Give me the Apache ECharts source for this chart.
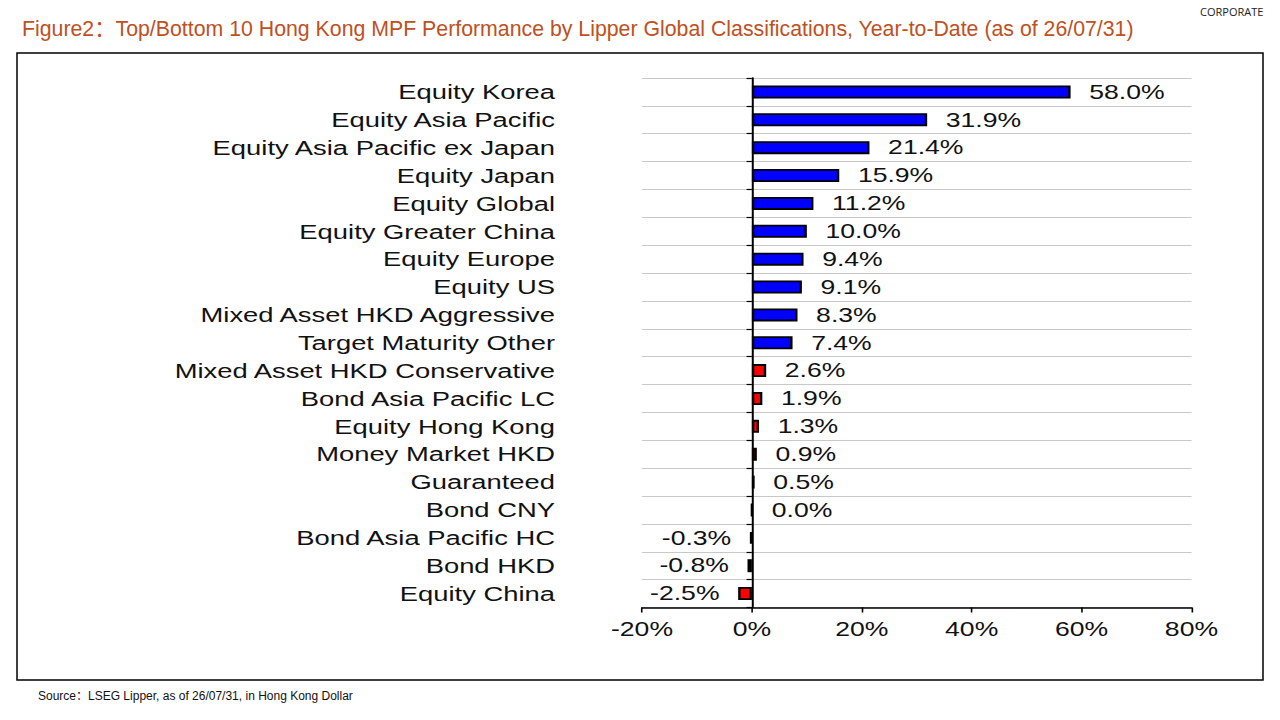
<!DOCTYPE html>
<html>
<head>
<meta charset="utf-8">
<script src="https://cdn.jsdelivr.net/npm/echarts@6/dist/echarts.min.js"></script>
<style>
  html, body { margin: 0; padding: 0; background: #fff; }
  #frame { position: absolute; left: 0; top: 0; width: 1280px; height: 720px; }
  #chart { position: absolute; left: 0; top: 0; height: 720px; transform-origin: 0 0; }
</style>
</head>
<body>
<div id="frame"></div>
<div id="chart"></div>
<script>
const categories = [
  'Equity Korea', 'Equity Asia Pacific', 'Equity Asia Pacific ex Japan', 'Equity Japan',
  'Equity Global', 'Equity Greater China', 'Equity Europe', 'Equity US',
  'Mixed Asset HKD Aggressive', 'Target Maturity Other', 'Mixed Asset HKD Conservative',
  'Bond Asia Pacific LC', 'Equity Hong Kong', 'Money Market HKD', 'Guaranteed',
  'Bond CNY', 'Bond Asia Pacific HC', 'Bond HKD', 'Equity China'
];
const ytdReturns = [58.0, 31.9, 21.4, 15.9, 11.2, 10.0, 9.4, 9.1, 8.3, 7.4,
                    2.6, 1.9, 1.3, 0.9, 0.5, 0.0, -0.3, -0.8, -2.5];
const topCount = 10;
const xTicks = [-20, 0, 20, 40, 60, 80];

const titleText = 'Figure2：Top/Bottom 10 Hong Kong MPF Performance by Lipper Global Classifications, Year-to-Date (as of 26/07/31)';
const sourceText = 'Source：LSEG Lipper, as of 26/07/31, in Hong Kong Dollar';
const tagText = 'CORPORATE';

const FONT = '"Liberation Sans", Arial, "Noto Sans CJK SC", sans-serif';

// Background frame, title and footnotes
const frame = echarts.init(document.getElementById('frame'), null, {renderer: 'svg'});
frame.setOption({
  animation: false,
  graphic: [
    { type: 'rect', shape: { x: 17, y: 53, width: 1246, height: 627 },
      style: { fill: 'none', stroke: '#000', lineWidth: 1.5 } },
    { type: 'text', left: 22, top: 18,
      style: { text: titleText, fill: '#C0501E', font: '21.3px ' + FONT } },
    { type: 'text', left: 1200, top: 6,
      style: { text: tagText, fill: '#222', font: '11px "Open Sans", "Liberation Sans", sans-serif' } },
    { type: 'text', left: 38, top: 690,
      style: { text: sourceText, fill: '#111', font: '12px ' + FONT } }
  ]
});

// Chart (horizontally stretched like the reference)
const S = 1.33;
const W = 1280 / S;
const chartDiv = document.getElementById('chart');
chartDiv.style.width = W + 'px';
chartDiv.style.transform = 'scaleX(' + S + ')';

const chart = echarts.init(chartDiv, null, {renderer: 'svg'});
chart.setOption({
  animation: false,
  backgroundColor: 'transparent',
  grid: { left: 642 / S, right: W - 1192 / S, top: 78, bottom: 720 - 607.5, containLabel: false },
  xAxis: {
    type: 'value', min: xTicks[0], max: xTicks[xTicks.length - 1], interval: 20,
    axisLine: { show: true, lineStyle: { color: '#000', width: 1.5 } },
    axisTick: { show: true, length: 5, lineStyle: { color: '#000', width: 1.2 } },
    splitLine: { show: false },
    axisLabel: { margin: 12, color: '#111', fontSize: 20, fontFamily: FONT,
                 formatter: v => v + '%' }
  },
  yAxis: {
    type: 'category', data: categories, inverse: true,
    axisLine: { show: true, onZero: true, lineStyle: { color: '#000', width: 1.5 } },
    axisTick: { show: true, length: 4, lineStyle: { color: '#000', width: 1.2 } },
    splitLine: { show: true, lineStyle: { color: '#c8c8c8', width: 1 } },
    axisLabel: { margin: (642 - 555) / S, color: '#111', fontSize: 20.6, fontFamily: FONT }
  },
  series: [{
    type: 'bar',
    barWidth: 13,
    data: ytdReturns.map((v, i) => ({
      value: v,
      itemStyle: { color: i < topCount ? '#0000FF' : '#FF0000', borderColor: '#000', borderWidth: 1.8 },
      label: { position: v < 0 ? 'left' : 'right' }
    })),
    label: {
      show: true, distance: 14, color: '#111', fontSize: 20, fontFamily: FONT,
      formatter: p => p.value.toFixed(1) + '%'
    }
  }]
});
</script>
</body>
</html>
